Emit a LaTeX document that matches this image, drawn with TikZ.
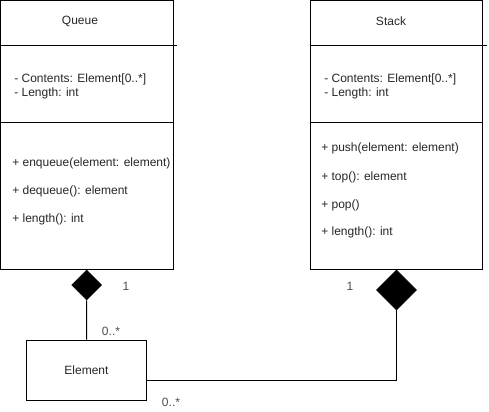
\documentclass[tikz,border=0pt]{standalone}
\usepackage{fontspec}
\setmainfont{Liberation Sans}
\usetikzlibrary{shapes.geometric}
\begin{document}
\begin{tikzpicture}[x=0.75pt,y=-0.75pt,
  box/.style={draw=black,line width=0.75pt,inner sep=0pt,minimum width=#1},
  txt/.style={font=\fontsize{9pt}{11pt}\selectfont,text=black!85,inner sep=0pt},
  lbl/.style={font=\fontsize{9pt}{11pt}\selectfont,text=black!70,inner sep=0pt},
  dia/.style={diamond,fill=black,draw=black,inner sep=0pt,minimum size=#1},
  ln/.style={line width=0.75pt,draw=black}]
\useasboundingbox (0,0) rectangle (489,411);
% Queue class
\node[box=129.4pt,minimum height=201.4pt] (queue) at (86.75,134.75) {};
\draw[ln] (0.5,45.7) coordinate (qa) -- (177,45.7) coordinate (qb);
\draw[ln] (0.5,122) coordinate (qc) -- (173,122) coordinate (qd);
\node[txt] (qt) at (80,21) {Queue};
\node[txt,anchor=west] (qa1) at (14,79) {- Contents: Element[0..*]};
\node[txt,anchor=west] (qa2) at (14,93) {- Length: int};
\node[txt,anchor=west] (qm1) at (12,163) {+ enqueue(element: element)};
\node[txt,anchor=west] (qm2) at (12,191) {+ dequeue(): element};
\node[txt,anchor=west] (qm3) at (12,219) {+ length(): int};
% Stack class
\node[box=129pt,minimum height=201.4pt] (stack) at (396,134.75) {};
\draw[ln] (310,45.7) coordinate (sa) -- (487,45.7) coordinate (sb);
\draw[ln] (310,122) coordinate (sc) -- (482,122) coordinate (sd0);
\node[txt] (st) at (391,21) {Stack};
\node[txt,anchor=west] (sa1) at (324,79) {- Contents: Element[0..*]};
\node[txt,anchor=west] (sa2) at (324,93) {- Length: int};
\node[txt,anchor=west] (sm1) at (321,148) {+ push(element: element)};
\node[txt,anchor=west] (sm2) at (321,177) {+ top(): element};
\node[txt,anchor=west] (sm3) at (321,205) {+ pop()};
\node[txt,anchor=west] (sm4) at (321,232) {+ length(): int};
% Element
\node[box=89.4pt,minimum height=45pt,txt] (elem) at (86.5,370) {Element};
% diamonds
\node[dia=22.5pt] (qdia) at (86.7,285) {};
\node[dia=30pt] (sdia) at (396.5,290) {};
% connectors
\draw[ln] (qdia.south) -- (elem.north);
\draw[ln] (sdia.south) |- ([yshift=-7.5pt]elem.east);
% multiplicities
\node[lbl] (q1) at (126,286) {1};
\node[lbl] (q0) at (111,331) {0..*};
\node[lbl] (s1) at (350,286) {1};
\node[lbl] (s0) at (171,402) {0..*};
\end{tikzpicture}
\end{document}
